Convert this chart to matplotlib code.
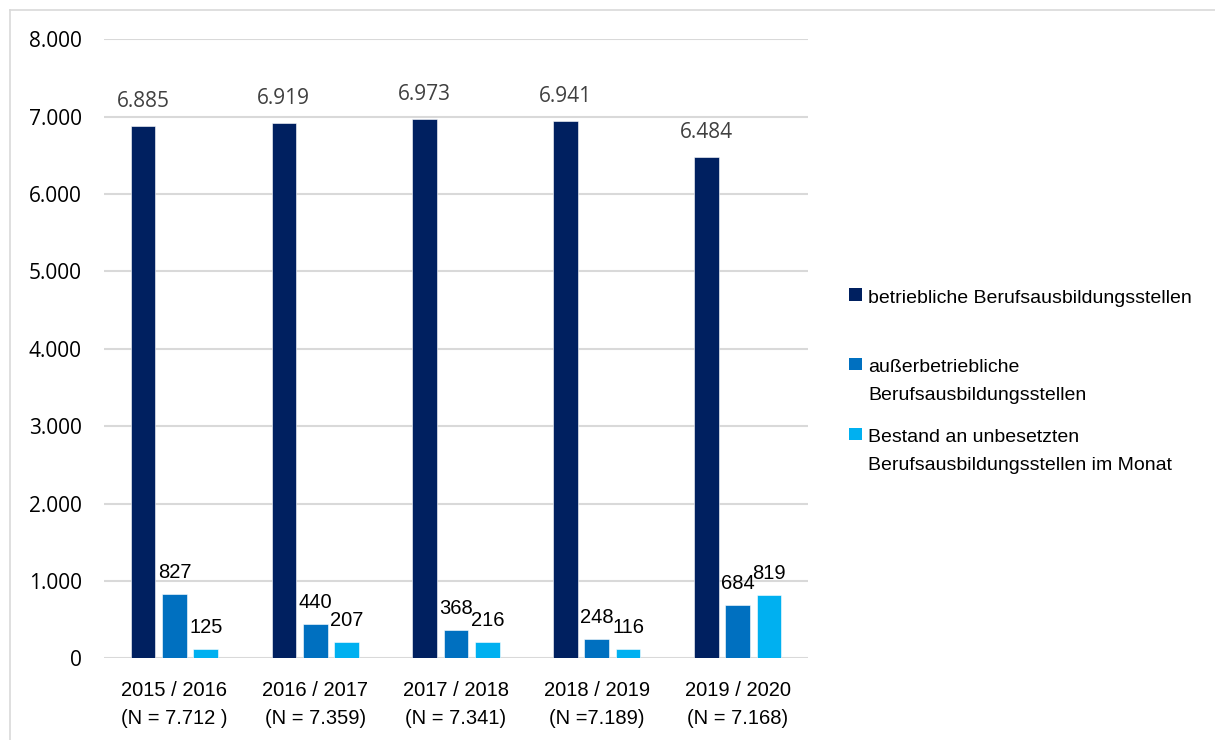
import numpy as np
import matplotlib.pyplot as plt
from matplotlib.patches import Rectangle
from matplotlib.lines import Line2D

# Ausbildungsstellen nach Berichtsjahr
jahre = ["2015 / 2016\n(N = 7.712 )", "2016 / 2017\n(N = 7.359)", "2017 / 2018\n(N = 7.341)",
         "2018 / 2019\n(N =7.189)", "2019 / 2020\n(N = 7.168)"]
betrieblich = [6885, 6919, 6973, 6941, 6484]
ausserbetrieblich = [827, 440, 368, 248, 684]
unbesetzt = [125, 207, 216, 116, 819]

namen = ["betriebliche Berufsausbildungsstellen",
         "außerbetriebliche\nBerufsausbildungsstellen",
         "Bestand an unbesetzten\nBerufsausbildungsstellen im Monat"]
farben = ["#002060", "#0070C0", "#00B0F0"]

ARIAL = ["Liberation Sans", "DejaVu Sans"]
OPEN = ["Open Sans", "DejaVu Sans"]


def fmt(v):
    return "{:,}".format(v).replace(",", ".")


W, H = 1215, 740
fig = plt.figure(figsize=(W / 100, H / 100), dpi=100)
ax = fig.add_axes([104 / W, 1 - 658.3 / H, (808 - 104) / W, (658.3 - 39.3) / H])

x = np.arange(len(jahre))
breite = 0.175
abstand = 0.2225
reihen = [betrieblich, ausserbetrieblich, unbesetzt]
for i, (werte, farbe) in enumerate(zip(reihen, farben)):
    pos = x + (i - 1) * abstand
    bars = ax.bar(pos, werte, breite, color=farbe, edgecolor="white", linewidth=0.4, zorder=3)
    for b, v in zip(bars, werte):
        if i == 0:
            ax.annotate(fmt(v), (b.get_x() + b.get_width() / 2, v), xytext=(0, 13.5),
                        textcoords="offset points", ha="center", va="baseline",
                        fontsize=15, color="#404040", family=OPEN)
        else:
            ax.annotate(fmt(v), (b.get_x() + b.get_width() / 2, v), xytext=(0, 11.5),
                        textcoords="offset points", ha="center", va="baseline",
                        fontsize=14.5, color="black", family=ARIAL)

ax.set_xlim(-0.5, len(jahre) - 0.5)
ax.set_ylim(0, 8000)
ax.set_yticks(np.arange(0, 8001, 1000))
ax.set_yticklabels([fmt(v) for v in range(0, 8001, 1000)], family=OPEN, fontsize=15)
ax.set_xticks(x)
ax.set_xticklabels(jahre, family=ARIAL, fontsize=14.5, linespacing=1.65)
ax.tick_params(axis="both", length=0)
ax.tick_params(axis="y", pad=16)
ax.tick_params(axis="x", pad=16)
ax.grid(axis="y", color="#D9D9D9", linewidth=1.5, zorder=0)
for s in ax.spines.values():
    s.set_visible(False)

# Rahmen oben und links
fig.add_artist(Line2D([10 / W, 1], [1 - 10 / H, 1 - 10 / H], transform=fig.transFigure,
                      color="#D9D9D9", linewidth=1.2))
fig.add_artist(Line2D([10 / W, 10 / W], [0, 1 - 10 / H], transform=fig.transFigure,
                      color="#D9D9D9", linewidth=1.2))

# Legende, jede Zeile einzeln auf ihre Grundlinie
grundlinien = [303, 372, 442]
zeilenabstand = 28.5
for name, farbe, yb in zip(namen, farben, grundlinien):
    fig.add_artist(Rectangle((849 / W, 1 - (yb - 2) / H), 12.5 / W, 12.5 / H,
                             transform=fig.transFigure, facecolor=farbe, edgecolor="none"))
    for k, zeile in enumerate(name.split("\n")):
        fig.text(868 / W, 1 - (yb + k * zeilenabstand) / H, zeile, family=ARIAL,
                 fontsize=14, color="black", va="baseline", ha="left")

fig.savefig("out.png", dpi=100)
